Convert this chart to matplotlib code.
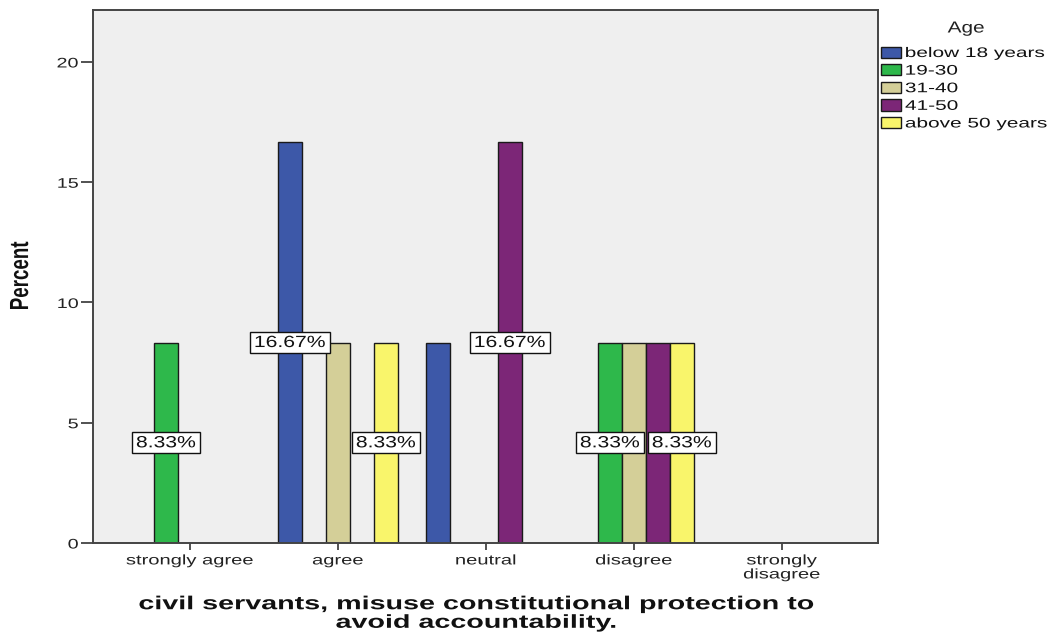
import matplotlib
matplotlib.use("Agg")
import matplotlib.pyplot as plt
from matplotlib.patches import Patch
from matplotlib.patheffects import AbstractPathEffect
from matplotlib.transforms import Affine2D, Bbox

categories = ["strongly agree", "agree", "neutral", "disagree", "strongly\ndisagree"]
age_groups = ["below 18 years", "19-30", "31-40", "41-50", "above 50 years"]

# percent of respondents per answer, one list per age group (None = no bar)
below_18 = [None, 16.67, 8.33, None, None]
age_19_30 = [8.33, None, None, 8.33, None]
age_31_40 = [None, 8.33, None, 8.33, None]
age_41_50 = [None, None, 16.67, 8.33, None]
above_50 = [None, 8.33, None, 8.33, None]
series = [below_18, age_19_30, age_31_40, age_41_50, above_50]

colors = ["#3d58a8", "#2eb84b", "#d4cf98", "#7c2677", "#f9f56b"]
yticks = [0, 5, 10, 15, 20]


class StretchX(AbstractPathEffect):
    """Widen glyphs horizontally around the left, centre or right of the line."""

    def __init__(self, sx, anchor="center"):
        super().__init__()
        self.sx = sx
        self.anchor = anchor

    def draw_path(self, renderer, gc, tpath, affine, rgbFace=None):
        ext = tpath.get_extents(affine)
        if self.anchor == "left":
            cx = ext.x0
        elif self.anchor == "right":
            cx = ext.x1
        else:
            cx = 0.5 * (ext.x0 + ext.x1)
        t = affine + Affine2D().translate(-cx, 0).scale(self.sx, 1.0).translate(cx, 0)
        renderer.draw_path(gc, tpath, t, rgbFace)


plt.rcParams["font.family"] = ["Liberation Sans", "DejaVu Sans"]

fig = plt.figure(figsize=(10.55, 6.37), dpi=100)
W, H = 1055, 637
ax = fig.add_axes([93 / W, 1 - 543 / H, (878 - 93) / W, (543 - 10) / H])
ax.set_facecolor("#efefef")

bar_w = 0.162
n = len(series)
bars = []
for si, vals in enumerate(series):
    for ci, v in enumerate(vals):
        if v is None:
            continue
        x = ci + (si - (n - 1) / 2) * bar_w
        ax.bar(x, v, width=bar_w, color=colors[si], edgecolor="#1a1a1a",
               linewidth=1.0, zorder=2)
        bars.append((si, ci, x, v))

ax.set_xlim(-0.655, 4.65)
ax.set_ylim(0, 22.16)
ax.set_yticks(yticks)
ax.set_yticklabels([str(t) for t in yticks])
ax.set_xticks(range(len(categories)))
ax.set_xticklabels(categories, linespacing=1.0)
ax.tick_params(axis="y", length=9, width=1.2, color="#333333", pad=1.5,
               labelsize=10, labelcolor="#222222")
ax.tick_params(axis="x", length=5, width=1.2, color="#333333", pad=2.5,
               labelsize=10, labelcolor="#222222")
for lbl in ax.get_yticklabels():
    lbl.set_path_effects([StretchX(1.42, "right")])
for lbl in ax.get_xticklabels():
    lbl.set_path_effects([StretchX(1.45, "center")])
for sp in ax.spines.values():
    sp.set_color("#444444")
    sp.set_linewidth(1.4)

# value labels at mid-height; a label is skipped when it would collide
# with one already placed (placed from the last age group backwards)
lab_sx = 1.3
lab_pad = 3.0
fig.canvas.draw()
renderer = fig.canvas.get_renderer()
placed = []
order = sorted(bars, key=lambda b: (-b[0], b[1]))
for si, ci, x, v in order:
    t = ax.text(x, v / 2, f"{v:.2f}%", ha="center", va="center", fontsize=11.7,
                color="#111111", zorder=5,
                bbox=dict(boxstyle=f"square,pad={lab_pad / 16.25:.3f}",
                          facecolor="white", edgecolor="#111111", linewidth=1.0))
    t.set_path_effects([StretchX(lab_sx, "center")])
    t.get_bbox_patch().set_path_effects([StretchX(lab_sx, "center")])
    ext = t.get_window_extent(renderer)
    cx = 0.5 * (ext.x0 + ext.x1)
    half = 0.5 * (ext.width + 2 * lab_pad) * lab_sx + 1
    box = Bbox.from_extents(cx - half, ext.y0 - lab_pad, cx + half, ext.y1 + lab_pad)
    if any(box.overlaps(p) for p in placed):
        t.remove()
    else:
        placed.append(box)

ylab = fig.text(21 / W, 1 - 276 / H, "Percent", rotation=90, ha="center",
                va="center", fontsize=13.5, fontweight="bold", color="#111111")
ylab.set_path_effects([StretchX(1.4, "center")])
xlab = fig.text(476 / W, 1 - 614 / H,
                "civil servants, misuse constitutional protection to\navoid accountability.",
                ha="center", va="center", fontsize=13.5, fontweight="bold",
                color="#111111", linespacing=1.12)
xlab.set_path_effects([StretchX(1.53, "center")])

handles = [Patch(facecolor=c, edgecolor="#1a1a1a", linewidth=1.0) for c in colors]
leg = fig.legend(handles, age_groups, loc="upper left",
                 bbox_to_anchor=(881 / W, 1 - 46 / H), frameon=False,
                 fontsize=10, handlelength=1.44, handleheight=0.86,
                 handletextpad=0.3, labelspacing=0.26, borderaxespad=0.0,
                 borderpad=0.0)
for txt in leg.get_texts():
    txt.set_color("#111111")
    txt.set_path_effects([StretchX(1.5, "left")])
title = fig.text(966 / W, 1 - 28 / H, "Age", ha="center", va="center",
                 fontsize=11.5, color="#222222")
title.set_path_effects([StretchX(1.3, "center")])

fig.savefig("out.png", dpi=100)
